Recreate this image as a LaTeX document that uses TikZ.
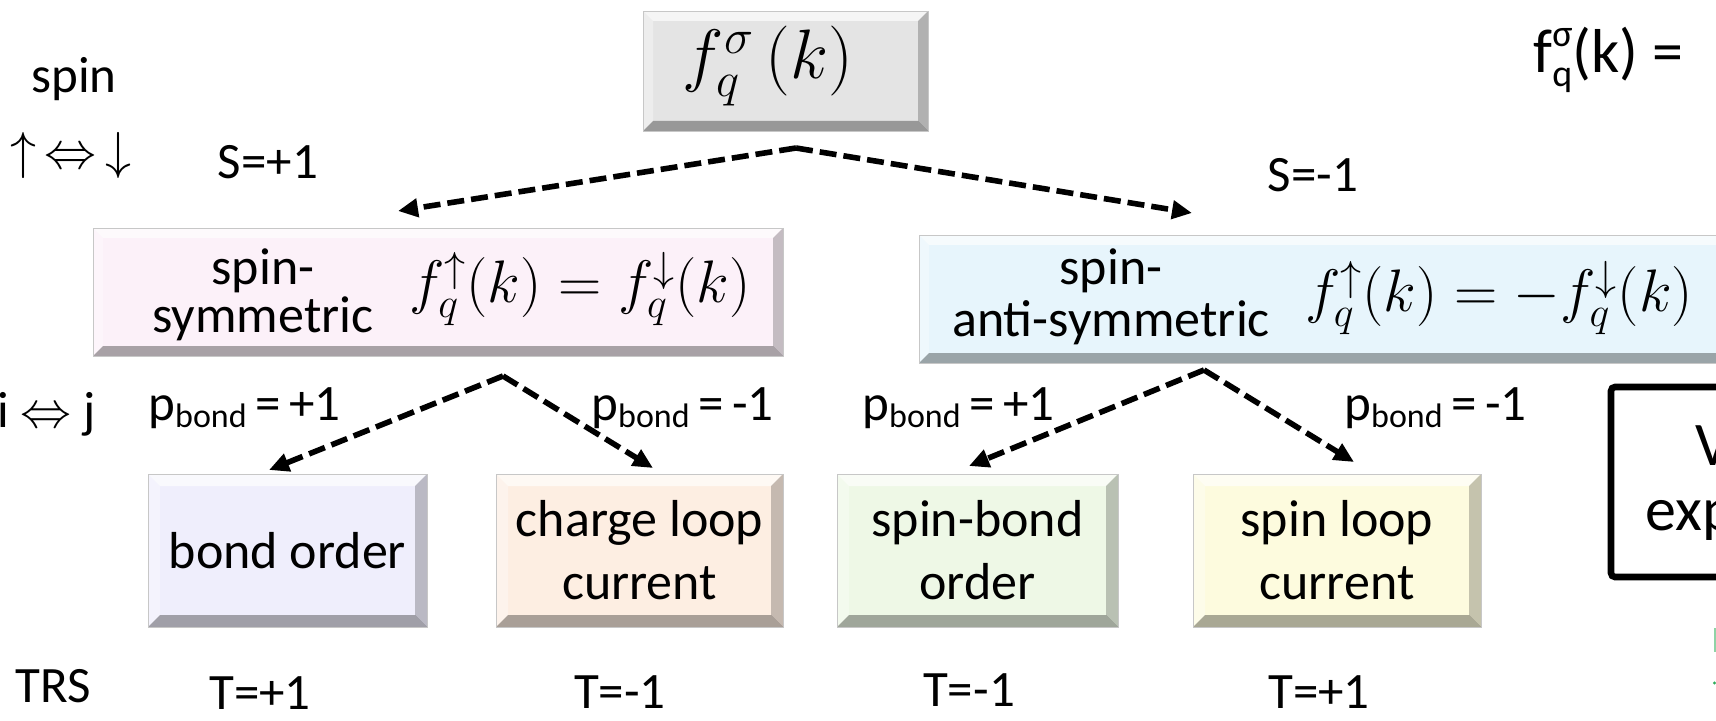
\RequirePackage{fix-cm}
\documentclass[tikz,border=0pt]{standalone}
\usepackage{fontspec}
\setmainfont{Carlito}
\usetikzlibrary{arrows.meta}
\definecolor{cTop}{HTML}{E4E4E4}
\definecolor{cSym}{HTML}{FCF1F9}
\definecolor{cAsym}{HTML}{E7F5FC}
\definecolor{cBond}{HTML}{EFEEFC}
\definecolor{cCharge}{HTML}{FDEEE2}
\definecolor{cSpinBond}{HTML}{EEF8E6}
\definecolor{cSpinLoop}{HTML}{FDFBDE}
\definecolor{cGreenA}{HTML}{8FD3A6}
\definecolor{cGreenB}{HTML}{2DAA5A}
\newcommand\pbondlbl[1]{p{\fontsize{17}{17}\selectfont\raisebox{-3.5pt}{bond}}\,=\,#1}
\def\bevw{5pt}
\begin{document}
\begin{tikzpicture}[x=0.5pt,y=-0.5pt,
  lbl/.style={font=\fontsize{25.5}{30}\selectfont, inner sep=0pt},
  boxtxt/.style={font=\fontsize{26}{31.5}\selectfont, align=center, inner sep=0pt},
  mathtxt/.style={font=\fontsize{30}{34}\selectfont, inner sep=0pt},
  bevw/.code={\def\bevw{#1}},
  bevelbox/.style={draw=black!22, line width=0.4pt, fill=#1, inner sep=0pt,
    path picture={
      \path (path picture bounding box.north west) coordinate (q1)
            (path picture bounding box.north east) coordinate (q2)
            (path picture bounding box.south east) coordinate (q3)
            (path picture bounding box.south west) coordinate (q4);
      \path ([shift={(\bevw,-\bevw)}]q1) coordinate (r1)
            ([shift={(-\bevw,-\bevw)}]q2) coordinate (r2)
            ([shift={(-\bevw,\bevw)}]q3) coordinate (r3)
            ([shift={(\bevw,\bevw)}]q4) coordinate (r4);
      \fill[white,opacity=.65] (q1)--(q2)--(r2)--(r1)--cycle;
      \fill[white,opacity=.35] (q1)--(r1)--(r4)--(q4)--cycle;
      \fill[black,opacity=.22] (q2)--(q3)--(r3)--(r2)--cycle;
      \fill[black,opacity=.33] (q4)--(q3)--(r3)--(r4)--cycle;
    }},
  conn/.style={line width=2.8pt, dash pattern=on 8.5pt off 3.5pt,
    -{Triangle[length=10pt,width=9pt]}},
]
\useasboundingbox (0,0) rectangle (1716,721);
\clip (0,0) rectangle (1716,721);
\fill[white] (0,0) rectangle (1716,721);

% boxes
\node[bevelbox=cTop, minimum width=142.5pt, minimum height=60pt] (top) at (785.5,71) {};
\node[bevelbox=cSym, minimum width=345pt, minimum height=64pt] (sym) at (438,292) {};
\node[bevelbox=cAsym, minimum width=405.5pt, minimum height=64pt] (asym) at (1324.5,299) {};
\node[bevelbox=cBond, bevw=6pt, minimum width=139.5pt, minimum height=76.5pt, boxtxt] (bond) at (287.5,550.5) {bond order};
\node[bevelbox=cCharge, bevw=6pt, minimum width=143.5pt, minimum height=76.5pt, boxtxt] (charge) at (639.5,550.5) {charge loop\\current};
\node[bevelbox=cSpinBond, bevw=6pt, minimum width=140.5pt, minimum height=76.5pt, boxtxt] (spinbond) at (977.5,550.5) {spin-bond\\order};
\node[bevelbox=cSpinLoop, bevw=6pt, minimum width=144pt, minimum height=76.5pt, boxtxt] (spinloop) at (1337,550.5) {spin loop\\current};

% texts inside upper boxes
\node[inner sep=0pt, font=\fontsize{35}{40}\selectfont] (topf) at (768,66) {$f_q^{\sigma}\,(k)$};
\node[boxtxt, font=\fontsize{26}{24}\selectfont] (symt) at (263,295) {spin-\\symmetric};
\node[mathtxt] (symf) at (580,289) {$f_q^{\uparrow}(k) = f_q^{\downarrow}(k)$};
\node[boxtxt, font=\fontsize{26}{26}\selectfont] (asymt) at (1111,297) {spin-\\anti-symmetric};
\node[mathtxt] (asymf) at (1499,298) {$f_q^{\uparrow}(k) = -f_q^{\downarrow}(k)$};

% side labels
\node[lbl] (spinl) at (74,79) {spin};
\node[lbl, font=\fontsize{26}{30}\selectfont] (spinsw) at (71,156) {$\uparrow\,\Leftrightarrow\,\downarrow$};
\node[lbl] (splus) at (268,162) {S=+1};
\node[lbl] (sminus) at (1313,175) {S=-1};
\node[lbl, anchor=base west, font=\fontsize{31}{34}\selectfont] (fdef) at (1533,73)
  {f\rlap{\raisebox{0.42em}{\fontsize{19}{19}\selectfont σ}}\raisebox{-0.22em}{\fontsize{19}{19}\selectfont q}(k) =};
\node[lbl, anchor=west] (ij) at (-3,414) {i $\Leftrightarrow$ j};
\node[lbl, anchor=base west] (p1) at (148,420) {\pbondlbl{+1}};
\node[lbl, anchor=base west] (p2) at (591,420) {\pbondlbl{-1}};
\node[lbl, anchor=base west] (p3) at (862,420) {\pbondlbl{+1}};
\node[lbl, anchor=base west] (p4) at (1344,420) {\pbondlbl{-1}};
\node[lbl] (trs) at (53,686) {TRS};
\node[lbl] (tr1) at (260,693) {T=+1};
\node[lbl] (tr2) at (620,692) {T=-1};
\node[lbl] (tr3) at (969,690) {T=-1};
\node[lbl] (tr4) at (1319,692) {T=+1};

% right black box (cut off)
\node[draw, line width=3.3pt, rounded corners=2pt, minimum width=60pt, minimum height=95pt] (vbox) at (1671,482) {};
\node[lbl, anchor=west, font=\fontsize{31}{32}\selectfont] (vtxt) at (1695,446) {V};
\node[lbl, anchor=west, font=\fontsize{31}{32}\selectfont] (exptxt) at (1645,520) {exp};
\fill[cGreenA] (1713.5,628) rectangle (1716,652);
\fill[cGreenB] (1714.5,683) circle (1.6);

% connectors
\coordinate (a0) at (796,148);
\coordinate (t1) at (398,211);
\coordinate (t2) at (1192,213);
\coordinate (a1) at (503,376);
\coordinate (t3) at (269,470);
\coordinate (t4) at (653,468);
\coordinate (a2) at (1204,370);
\coordinate (t5) at (969,466);
\coordinate (t6) at (1354,462);
\draw[conn] (a0) -- (t1);
\draw[conn] (a0) -- (t2);
\draw[conn] (a1) -- (t3);
\draw[conn] (a1) -- (t4);
\draw[conn] (a2) -- (t5);
\draw[conn] (a2) -- (t6);
\end{tikzpicture}
\end{document}
